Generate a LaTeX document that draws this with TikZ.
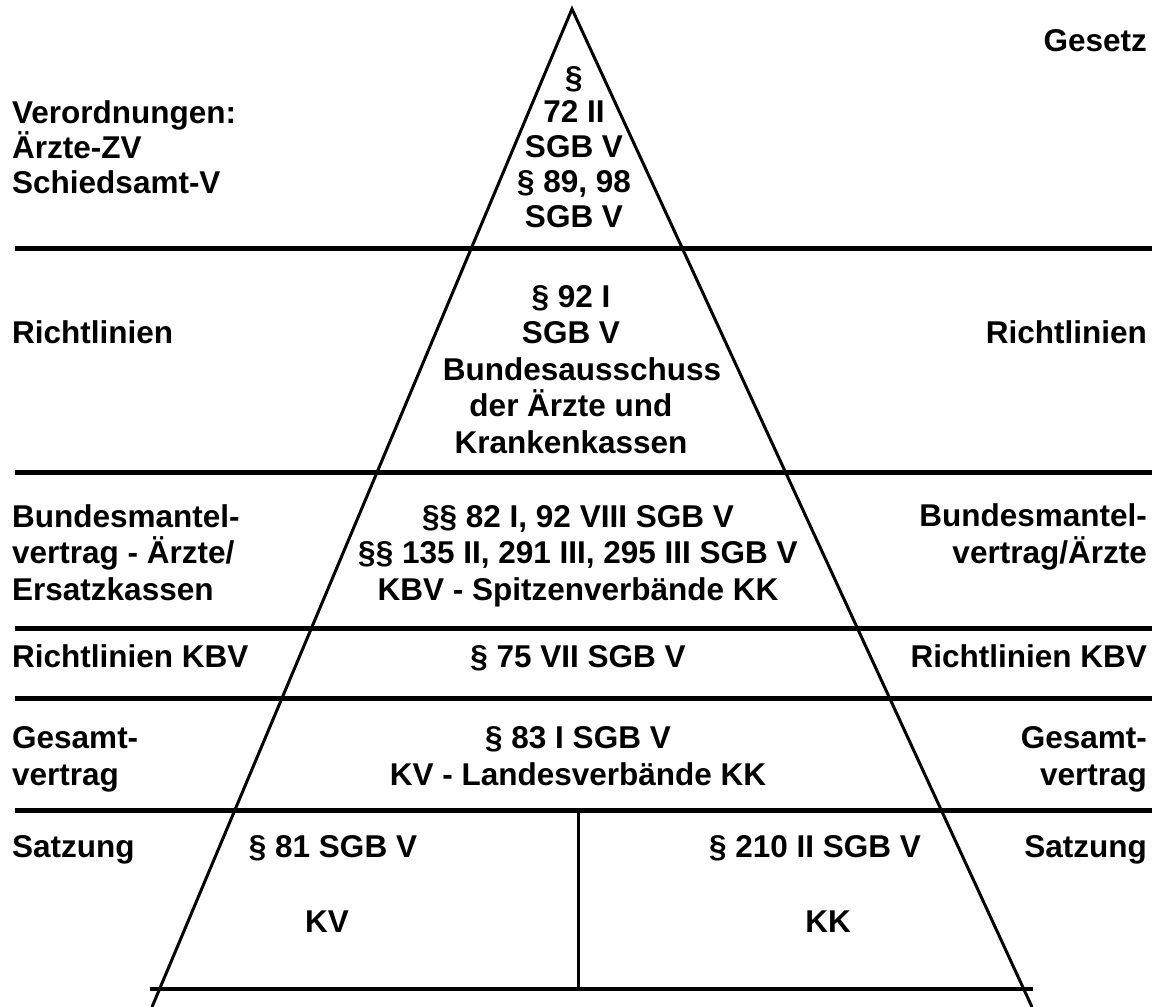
\documentclass[tikz,border=0pt]{standalone}
\usepackage{fontspec}
\setmainfont{Liberation Sans}

\begin{document}
\begin{tikzpicture}[x=1pt, y=-1pt,
  txt/.style={inner sep=0pt, font=\fontsize{31.5}{36.5}\selectfont\bfseries},
  tight/.style={font=\fontsize{31.5}{34.7}\selectfont\bfseries},
  lefttxt/.style={txt, anchor=base west, align=left},
  righttxt/.style={txt, anchor=base east, align=right},
  midtxt/.style={txt, anchor=base, align=center},
  layer/.style={line width=5pt},
  side/.style={line width=3pt}]

    \useasboundingbox (0,0) rectangle (1157,1007);

    % pyramid
    \coordinate (apex) at (572,9);
    \coordinate (footL) at (152,1007);
    \coordinate (footR) at (1032,1007);
    \draw[side] (footL) -- (apex) -- (footR);

    % layers
    \draw[layer] (15,248) -- (1152,248);
    \draw[layer] (15,472) -- (1152,472);
    \draw[layer] (15,628) -- (1152,628);
    \draw[layer] (15,698) -- (1152,698);
    \draw[layer] (15,810) -- (1152,810);
    \draw[line width=4pt] (150,989) -- (1033,989);
    \coordinate (divtop) at (578,810);
    \coordinate (divbot) at (578,989);
    \draw[side] (divtop) -- (divbot);

    % top (multi-line nodes sit on the baseline of their last line)
    \node[righttxt] (gesetz) at (1147,51) {Gesetz};
    \node[lefttxt, tight] (verord) at (12,193) {Verordnungen:\\Ärzte-ZV\\Schiedsamt-V};
    \node[midtxt, tight] (para72) at (574,227) {§\\72 II\\SGB V\\§ 89, 98\\SGB V};

    % Richtlinien
    \node[lefttxt] (richtL) at (12,343) {Richtlinien};
    \node[midtxt] (para92) at (571,453) {§ 92 I\\SGB V\\\hspace*{22pt}Bundesausschuss\\der Ärzte und\\Krankenkassen};
    \node[righttxt] (richtR) at (1147,343) {Richtlinien};

    % Bundesmantelvertrag
    \node[lefttxt] (bmvL) at (12,600) {Bundesmantel-\\vertrag - Ärzte/\\Ersatzkassen};
    \node[midtxt] (para82) at (578,600) {§§ 82 I, 92 VIII SGB V\\§§ 135 II, 291 III, 295 III SGB V\\KBV - Spitzenverbände KK};
    \node[righttxt] (bmvR) at (1147,563) {Bundesmantel-\\vertrag/Ärzte};

    % Richtlinien KBV
    \node[lefttxt] (kbvL) at (12,667) {Richtlinien KBV};
    \node[midtxt] (para75) at (578,667) {§ 75 VII SGB V};
    \node[righttxt] (kbvR) at (1147,667) {Richtlinien KBV};

    % Gesamtvertrag
    \node[lefttxt] (gvL) at (12,785) {Gesamt-\\vertrag};
    \node[midtxt] (para83) at (578,785) {§ 83 I SGB V\\KV - Landesverbände KK};
    \node[righttxt] (gvR) at (1147,785) {Gesamt-\\vertrag};

    % Satzung
    \node[lefttxt] (satzL) at (12,857) {Satzung};
    \node[midtxt] (para81) at (333,857) {§ 81 SGB V};
    \node[midtxt] (para210) at (815,857) {§ 210 II SGB V};
    \node[righttxt] (satzR) at (1147,857) {Satzung};
    \node[midtxt] (kv) at (327,932) {KV};
    \node[midtxt] (kk) at (828,932) {KK};
  \end{tikzpicture}
\end{document}
